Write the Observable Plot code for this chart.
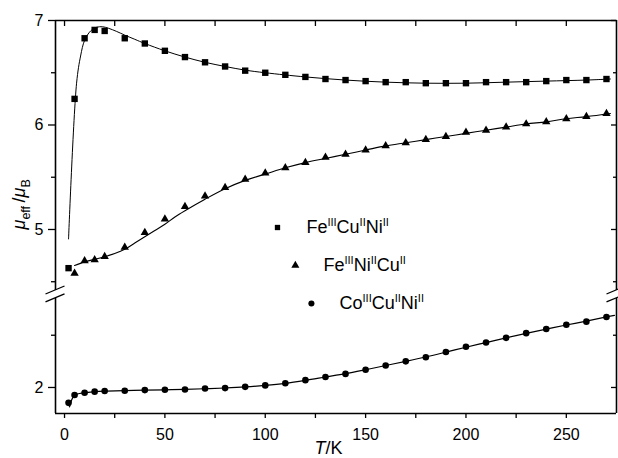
<!DOCTYPE html>
<html><head><meta charset="utf-8">
<script src="https://cdn.jsdelivr.net/npm/d3@7"></script>
<script src="https://cdn.jsdelivr.net/npm/@observablehq/plot@0.6"></script>
<style>
html,body{margin:0;padding:0;background:#fff}
</style>
</head><body><div id="chart"></div>
<script>
// ---------- data ----------
const tempSq = [2,5,10,15,20,30,40,50,60,70,80,90,100,110,120,130,140,150,160,170,180,190,200,210,220,230,240,250,260,270];
const muSq   = [4.63,6.25,6.83,6.91,6.90,6.83,6.78,6.71,6.65,6.60,6.56,6.52,6.50,6.48,6.46,6.44,6.43,6.42,6.41,6.41,6.40,6.40,6.40,6.41,6.41,6.41,6.42,6.43,6.43,6.44];
const tempTri = [5,10,15,20,30,40,50,60,70,80,90,100,110,120,130,140,150,160,170,180,190,200,210,220,230,240,250,260,270];
const muTri   = [4.58,4.70,4.71,4.74,4.83,4.97,5.10,5.22,5.32,5.40,5.48,5.54,5.59,5.64,5.69,5.72,5.76,5.80,5.83,5.86,5.89,5.93,5.95,5.98,6.01,6.03,6.06,6.08,6.11];
const tempCi = [2,5,10,15,20,30,40,50,60,70,80,90,100,110,120,130,140,150,160,170,180,190,200,210,220,230,240,250,260,270];
const muCi   = [1.853,1.928,1.95,1.96,1.966,1.969,1.975,1.978,1.98,1.99,1.994,2.006,2.02,2.04,2.07,2.10,2.13,2.17,2.21,2.25,2.29,2.34,2.39,2.43,2.475,2.52,2.56,2.60,2.63,2.675];

// fitted curves
const fitSqT  = [2,6,8,10,13,16,19,22,26,30,35,40,50,60,70,80,90,100,120,140,160,180,200,220,240,260,272];
const fitSqMu = [4.91,6.40,6.66,6.81,6.90,6.935,6.94,6.925,6.895,6.86,6.82,6.78,6.71,6.65,6.60,6.56,6.525,6.50,6.46,6.43,6.41,6.40,6.40,6.41,6.42,6.43,6.44];
const fitTriT  = [5,10,15,20,25,30,35,40,45,50,55,60,70,80,90,100,110,120,130,140,150,160,170,180,190,200,210,220,230,240,250,260,272];
const fitTriMu = [4.655,4.69,4.715,4.74,4.77,4.81,4.87,4.93,4.99,5.05,5.12,5.18,5.29,5.39,5.47,5.53,5.59,5.64,5.68,5.72,5.76,5.80,5.83,5.86,5.89,5.92,5.95,5.98,6.01,6.03,6.06,6.08,6.11];
const fitCiT  = [2.5,5,10,15,20,30,40,50,60,70,80,90,100,110,120,130,140,150,160,170,180,190,200,210,220,230,240,250,260,270,274];
const fitCiMu = [1.815,1.925,1.95,1.96,1.965,1.969,1.975,1.978,1.982,1.988,1.995,2.005,2.02,2.04,2.068,2.10,2.132,2.17,2.21,2.25,2.292,2.338,2.385,2.43,2.475,2.518,2.558,2.598,2.635,2.675,2.69];

const seriesLabels = ["Fe^{III}Cu^{II}Ni^{II}", "Fe^{III}Ni^{II}Cu^{II}", "Co^{III}Cu^{II}Ni^{II}"];
const seriesSymbols = ["square", "triangle", "circle"];

const xTicks = [0,25,50,75,100,125,150,175,200,225,250];
const xLabelTicks = [0,50,100,150,200,250];
const yMajor = [2,5,6,7];
const yMinor = [2.5,4.5,5.5,6.5];

// ---------- broken axis mapping ----------
const OFFSET = 1.488;                       // lower segment is shifted up by this
const yc = v => v < 3.5 ? v + OFFSET : v;   // real value -> axis coordinate
const yInv = v => v < 4.38 ? v - OFFSET : v;
const X_MIN = -4.5, X_MAX = 275, Y_MIN = 3.239, Y_MAX = 7;
const GAP_LO = 4.34, GAP_HI = 4.416;

// legend layout (axis coordinates)
const legendLayout = [
  {mx: 106.1, tx: 120.5, y: 5.019, r: 2.9},
  {mx: 115.0, tx: 129.0, y: 4.656, r: 2.9},
  {mx: 123.0, tx: 137.0, y: 4.292, r: 3.0}
];

const pts = (T, M) => T.map((t, i) => ({T: t, mu: M[i]}));
const sq = pts(tempSq, muSq), tri = pts(tempTri, muTri), ci = pts(tempCi, muCi);
const fSq = pts(fitSqT, fitSqMu), fTri = pts(fitTriT, fitTriMu), fCi = pts(fitCiT, fitCiMu);
const legendData = seriesLabels.map((s, i) => ({label: s, symbol: seriesSymbols[i], ...legendLayout[i]}));

const Y = d => yc(d.mu);
const FONT = "Liberation Sans, Arial, Helvetica, sans-serif";

const plot = Plot.plot({
  width: 618, height: 458,
  marginLeft: 55, marginRight: 2, marginTop: 20, marginBottom: 45,
  style: {fontFamily: FONT, fontSize: "16px", background: "white", color: "black"},
  x: {domain: [X_MIN, X_MAX]},
  y: {domain: [Y_MIN, Y_MAX]},
  marks: [
    // fits
    Plot.line(fSq, {x: "T", y: Y, stroke: "black", strokeWidth: 1, curve: "catmull-rom"}),
    Plot.line(fTri, {x: "T", y: Y, stroke: "black", strokeWidth: 1.1, curve: "catmull-rom"}),
    Plot.line(fCi, {x: "T", y: Y, stroke: "black", strokeWidth: 1.2, curve: "catmull-rom"}),
    // data points
    Plot.dot(sq, {x: "T", y: Y, symbol: "square", r: 3.6, fill: "black", stroke: "none"}),
    Plot.dot(tri, {x: "T", y: Y, symbol: "triangle", r: 3.1, fill: "black", stroke: "none"}),
    Plot.dot(ci, {x: "T", y: Y, symbol: "circle", r: 3.3, fill: "black", stroke: "none"}),
    // frame (broken at the axis break)
    Plot.ruleY([Y_MAX, Y_MIN], {stroke: "black", strokeWidth: 1.6}),
    Plot.ruleX([X_MIN, X_MAX], {y1: Y_MIN, y2: GAP_LO, stroke: "black", strokeWidth: 1.6}),
    Plot.ruleX([X_MIN, X_MAX], {y1: GAP_HI, y2: Y_MAX, stroke: "black", strokeWidth: 1.6}),
    // axes
    Plot.axisX({anchor: "bottom", ticks: xTicks, tickSize: 5, tickPadding: 10, strokeWidth: 1.3,
      tickFormat: d => xLabelTicks.includes(d) ? String(d) : "", fontSize: 16, label: null}),
    Plot.axisX({anchor: "top", ticks: xTicks, tickSize: -5, strokeWidth: 1.3, text: null, label: null}),
    Plot.axisY({anchor: "left", ticks: yMajor.map(yc), tickSize: 7, tickPadding: 5, strokeWidth: 1.3,
      tickFormat: d => String(Math.round(yInv(d) * 10) / 10), fontSize: 16, label: null}),
    Plot.axisY({anchor: "left", ticks: yMinor.map(yc), tickSize: 4, strokeWidth: 1.3, text: null, label: null}),
    Plot.axisY({anchor: "right", ticks: yMajor.map(yc), tickSize: -6, strokeWidth: 1.3, text: null, label: null}),
    Plot.axisY({anchor: "right", ticks: yMinor.map(yc), tickSize: -4, strokeWidth: 1.3, text: null, label: null}),
    // legend
    Plot.dot(legendData, {x: "mx", y: "y", symbol: "symbol", r: "r", fill: "black", stroke: "none"}),
    Plot.text(legendData, {x: "tx", y: "y", text: "label", textAnchor: "start", fontSize: 18, fill: "black", className: "legendtext"}),
    // axis titles
    Plot.text(["ylab"], {frameAnchor: "left", y: () => 5.0, dx: -36, rotate: -90, text: () => "ylab", fontSize: 18, fill: "black", lineAnchor: "middle", className: "ylab"}),
    Plot.text(["xlab"], {frameAnchor: "bottom", x: () => 131.5, dy: 35, text: () => "xlab", fontSize: 18, fill: "black", lineAnchor: "middle", className: "xlab"})
  ]
});
plot.setAttribute("font-family", FONT);
document.getElementById("chart").appendChild(plot);

const svg = d3.select(plot);

function rich(textSel, parts) {
  textSel.text(null);
  let shift = 0;
  for (const p of parts) {
    const target = p.s === "sup" ? -7 : p.s === "sub" ? 4.5 : 0;
    const ts = textSel.append("tspan").attr("dy", target - shift).text(p.t);
    shift = target;
    if (p.s === "sup") ts.attr("font-size", 11);
    if (p.s === "sub") ts.attr("font-size", 12.5);
    if (p.i) ts.attr("font-style", "italic");
  }
}
svg.selectAll(".legendtext text").each(function() {
  const s = this.textContent;
  const parts = [];
  s.replace(/([^\^]+?)\^\{([^}]*)\}/g, (m, a, b) => { parts.push({t: a}, {t: b, s: "sup"}); return m; });
  rich(d3.select(this), parts);
});
svg.selectAll(".ylab text").each(function() {
  rich(d3.select(this), [{t: "μ", i: true}, {t: "eff ", s: "sub"}, {t: "/"}, {t: "μ", i: true}, {t: "B", s: "sub"}]);
});
svg.selectAll(".xlab text").each(function() {
  rich(d3.select(this), [{t: "T", i: true}, {t: "/K"}]);
});

// axis break marks, positioned through the plot's scales
const sx = plot.scale("x"), sy = plot.scale("y");
const gb = svg.append("g").attr("stroke", "black").attr("stroke-width", 1.3);
for (const xv of [X_MIN, X_MAX]) for (const yv of [GAP_HI, GAP_LO]) {
  const px = sx.apply(xv), py = sy.apply(yv);
  gb.append("line").attr("x1", px - 9.5).attr("y1", py + 4).attr("x2", px + 9.5).attr("y2", py - 4);
}
</script>
</body></html>
